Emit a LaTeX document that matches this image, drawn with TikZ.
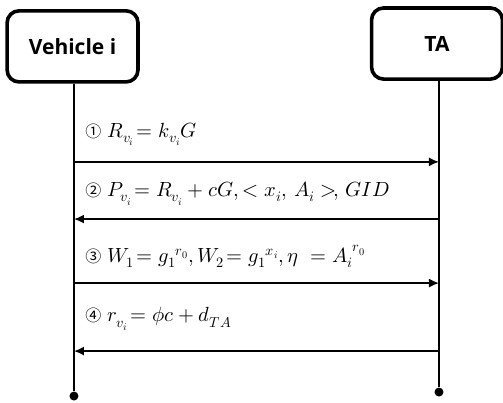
\documentclass[tikz,border=0pt]{standalone}
\usepackage{amsmath}
\usepackage{fontspec}
\usepackage{unicode-math}
\setmathfont{Latin Modern Math}
\setsansfont{Open Sans}
\newfontfamily\circfont{Noto Sans CJK SC}
\usetikzlibrary{arrows.meta,positioning}

\newcommand{\stepno}[1]{{\circfont\fontsize{16}{19}\selectfont #1}}

\begin{document}
\begin{tikzpicture}[
  actor/.style={rectangle, draw=black, line width=3.6pt, rounded corners=12pt,
    minimum width=4.6cm, minimum height=2.5cm, align=center,
    font=\sffamily\bfseries\fontsize{21}{24}\selectfont},
  life/.style={line width=2.6pt},
  msg/.style={-{Latex[length=10pt,width=9pt]}, line width=1.6pt},
  endpt/.style={circle, fill=black, inner sep=0pt, minimum size=9pt},
  lbl/.style={anchor=west, inner sep=0pt, font=\fontsize{20.5}{24}\selectfont}
]
  \useasboundingbox (0,0) rectangle (17.68,-14.13);
  \node[actor] (veh) at (2.55,-1.63) {Vehicle i};
  \node[actor] (ta) at (15.36,-1.53) {TA};
  % lifelines
  \node[endpt] (vend) at (2.60,-13.92) {};
  \node[endpt] (tend) at (15.43,-13.78) {};
  \draw[life] (veh.south -| vend) -- (vend);
  \draw[life] (ta.south -| tend) -- (tend);
  % message points
  \coordinate (v1) at (2.60,-5.69);  \coordinate (t1) at (15.43,-5.69);
  \coordinate (v2) at (2.60,-7.70);  \coordinate (t2) at (15.43,-7.70);
  \coordinate (v3) at (2.60,-9.95);  \coordinate (t3) at (15.43,-9.95);
  \coordinate (v4) at (2.60,-12.34); \coordinate (t4) at (15.43,-12.34);
  \draw[msg] (v1) -- (t1);
  \draw[msg] (t2) -- (v2);
  \draw[msg] (v3) -- (t3);
  \draw[msg] (t4) -- (v4);
  % labels
  \node[lbl] (m1) at (2.99,-4.72) {\stepno{①} $R_{v_i}\!= k_{v_i}G$};
  \node[lbl] (m2) at (2.99,-6.80) {\stepno{②} $P_{v_i}\!= R_{v_i} + cG, < x_i,\, A_i >\!,\, GID$};
  \node[lbl] (m3) at (2.99,-9.02) {\stepno{③} $W_1\!= {g_1}^{r_0}, W_2\!= {g_1}^{x_i}, \eta\ = {A_i}^{r_0}$};
  \node[lbl] (m4) at (2.99,-11.22) {\stepno{④} $r_{v_i}\!= \phi c + d_{TA}$};
\end{tikzpicture}
\end{document}
